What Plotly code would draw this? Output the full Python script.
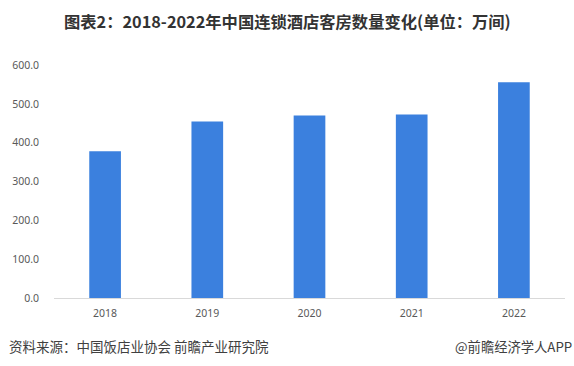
import plotly.graph_objects as go

years = ["2018", "2019", "2020", "2021", "2022"]
rooms = [377.6, 454.2, 470.1, 472.3, 555.4]
y_ticks = [0, 100, 200, 300, 400, 500, 600]
y_tick_labels = ["0.0", "100.0", "200.0", "300.0", "400.0", "500.0", "600.0"]

title_text = "图表2：2018-2022年中国连锁酒店客房数量变化(单位：万间)"
source_text = "资料来源：中国饭店业协会 前瞻产业研究院"
brand_text = "@前瞻经济学人APP"

W, H = 574, 366
ML, MR, MT, MB = 54, 9, 65, 68

fig = go.Figure()
fig.add_trace(go.Bar(
    x=years, y=rooms,
    marker=dict(color="#3B80DE", line=dict(width=0)),
    width=0.31,
    hoverinfo="x+y",
))

plot_w = W - ML - MR
plot_h = H - MT - MB


def px_to_paper(xw, yw):
    return (xw - ML) / plot_w, (H - MB - yw) / plot_h


tx, ty = px_to_paper(287, 21)
sx, sy = px_to_paper(7, 346)
bx, by = px_to_paper(574, 346)

fig.update_layout(
    width=W, height=H,
    margin=dict(l=ML, r=MR, t=MT, b=MB, autoexpand=False),
    paper_bgcolor="white", plot_bgcolor="white",
    showlegend=False,
    font=dict(family="Noto Sans, Noto Sans CJK SC", color="#595959", size=10.5),
    xaxis=dict(
        type="category",
        range=[-0.5, 4.5],
        automargin=False,
        showgrid=False, zeroline=False,
        showline=True, linecolor="#D9D9D9", linewidth=1,
        ticks="", tickfont=dict(size=10.5, color="#595959"),
        ticklabelstandoff=5,
    ),
    yaxis=dict(
        range=[0, 600],
        automargin=False,
        tickvals=y_ticks, ticktext=y_tick_labels,
        showgrid=False, zeroline=False, showline=False,
        ticks="", tickfont=dict(size=10.5, color="#595959"),
        ticklabelstandoff=14,
    ),
    annotations=[
        dict(text="<b>" + title_text + "</b>", x=tx, y=ty, xref="paper", yref="paper",
             showarrow=False, font=dict(family="Noto Sans CJK SC", size=16.3, color="#333333"),
             xanchor="center", yanchor="middle"),
        dict(text=source_text, x=sx, y=sy, xref="paper", yref="paper", showarrow=False,
             font=dict(family="Noto Sans CJK SC", size=13.5, color="#404040"),
             xanchor="left", yanchor="middle"),
        dict(text=brand_text, x=bx, y=by, xref="paper", yref="paper", showarrow=False,
             font=dict(family="Noto Sans CJK SC", size=13.3, color="#404040"),
             xanchor="right", yanchor="middle"),
    ],
)

fig.write_html(
    "out.html",
    config={"displayModeBar": False},
    post_script="document.body.style.margin='0';document.documentElement.style.overflow='hidden';",
)
